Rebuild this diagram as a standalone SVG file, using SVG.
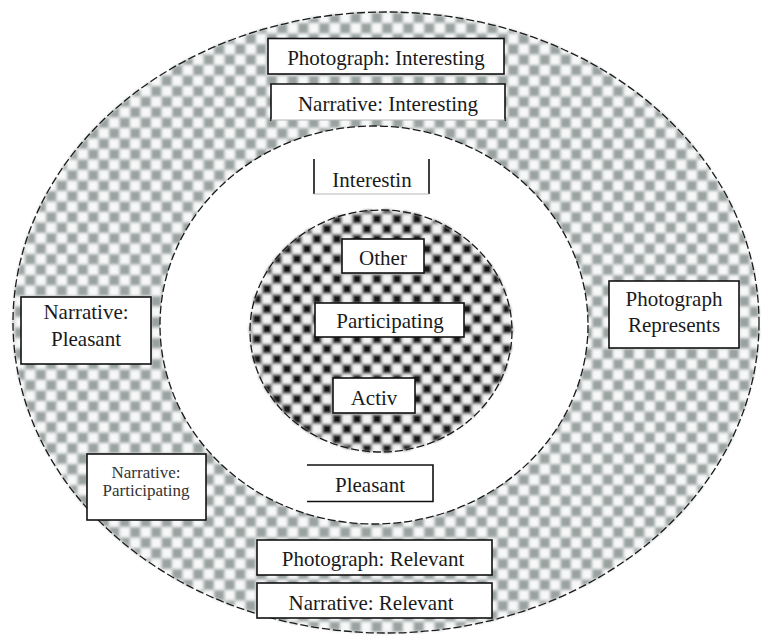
<svg xmlns="http://www.w3.org/2000/svg" width="769" height="644" viewBox="0 0 769 644">
  <defs>
    <pattern id="lightCheck" patternUnits="userSpaceOnUse" x="4" y="2" width="21" height="21">
      <rect width="21" height="21" fill="#f7f8f8"/>
      <rect x="0" y="0" width="10.5" height="10.5" fill="#9aa1a1"/>
      <rect x="10.5" y="10.5" width="10.5" height="10.5" fill="#9aa1a1"/>
    </pattern>
    <pattern id="darkCheck" patternUnits="userSpaceOnUse" x="2" y="4" width="20" height="20">
      <rect width="20" height="20" fill="#f4f4f4"/>
      <rect x="0" y="0" width="10" height="10" fill="#151515"/>
      <rect x="10" y="10" width="10" height="10" fill="#151515"/>
    </pattern>
    <filter id="soft" x="-5%" y="-5%" width="110%" height="110%">
      <feGaussianBlur stdDeviation="1.7"/>
    </filter>
  </defs>
  <style>
    .ring { stroke: #1a1a1a; stroke-width: 1.3; stroke-dasharray: 8 3; fill: none; }
    .box { fill: #ffffff; stroke: #111111; stroke-width: 1.6; }
    .wbox { fill: #ffffff; stroke: none; }
    .edge { stroke: #111111; stroke-width: 1.6; fill: none; }
    .faint { stroke: #b8b8b8; stroke-width: 1.2; fill: none; }
    .lbl { font-family: "Liberation Serif", "Times New Roman", serif; font-size: 21px; fill: #1a1a1a; text-anchor: middle; }
    .small { font-size: 17px; fill: #333333; }
  </style>

  <rect width="769" height="644" fill="#ffffff"/>

  <g id="rings">
    <ellipse cx="386" cy="322.5" rx="373" ry="310.5" fill="url(#lightCheck)" filter="url(#soft)"/>
    <ellipse cx="374" cy="325" rx="214" ry="199" fill="#ffffff"/>
    <ellipse cx="381" cy="331" rx="131" ry="121" fill="url(#darkCheck)" filter="url(#soft)"/>
    <ellipse class="ring" cx="386" cy="322.5" rx="373" ry="310.5"/>
    <ellipse class="ring" cx="374" cy="325" rx="214" ry="199"/>
    <ellipse class="ring" cx="381" cy="331" rx="131" ry="121"/>
  </g>

  <g id="connectors"></g>

  <g id="photograph-interesting">
    <rect class="box" x="268" y="38.5" width="236" height="35.5"/>
    <text class="lbl" x="386" y="65">Photograph: Interesting</text>
  </g>

  <g id="narrative-interesting">
    <rect class="wbox" x="271" y="84" width="234" height="36"/>
    <path class="edge" d="M271,121 V84 H505 V121"/>
    <path class="faint" d="M271,120 H505"/>
    <text class="lbl" x="388" y="111">Narrative: Interesting</text>
  </g>

  <g id="interestin">
    <path class="edge" d="M314,159 V194 M429,159 V194"/>
    <path class="faint" d="M314,194 H429"/>
    <text class="lbl" x="372" y="187">Interestin</text>
  </g>

  <g id="other">
    <rect class="box" x="342" y="239" width="82" height="34"/>
    <text class="lbl" x="383" y="265">Other</text>
  </g>

  <g id="participating">
    <rect class="box" x="315" y="303" width="149" height="34"/>
    <text class="lbl" x="390" y="328">Participating</text>
  </g>

  <g id="activ">
    <rect class="box" x="333" y="378" width="82" height="35"/>
    <text class="lbl" x="374" y="405">Activ</text>
  </g>

  <g id="pleasant">
    <rect class="wbox" x="307" y="465" width="126" height="36.5"/>
    <path class="edge" d="M307,465 H433 V501.5 H307"/>
    <text class="lbl" x="370" y="492">Pleasant</text>
  </g>

  <g id="photograph-relevant">
    <rect class="box" x="257" y="540" width="235" height="35"/>
    <text class="lbl" x="373" y="566">Photograph: Relevant</text>
  </g>

  <g id="narrative-relevant">
    <rect class="box" x="257" y="583" width="235" height="35"/>
    <text class="lbl" x="371" y="610">Narrative: Relevant</text>
  </g>

  <g id="narrative-pleasant">
    <rect class="box" x="21" y="297" width="130" height="67"/>
    <text class="lbl" x="86" y="319">Narrative:</text>
    <text class="lbl" x="86" y="346">Pleasant</text>
  </g>

  <g id="photograph-represents">
    <rect class="box" x="609" y="281" width="130" height="67"/>
    <text class="lbl" x="674" y="306">Photograph</text>
    <text class="lbl" x="674" y="332">Represents</text>
  </g>

  <g id="narrative-participating">
    <rect class="box" x="87" y="454" width="119" height="66"/>
    <text class="lbl small" x="146" y="478">Narrative:</text>
    <text class="lbl small" x="146" y="496">Participating</text>
  </g>
</svg>
